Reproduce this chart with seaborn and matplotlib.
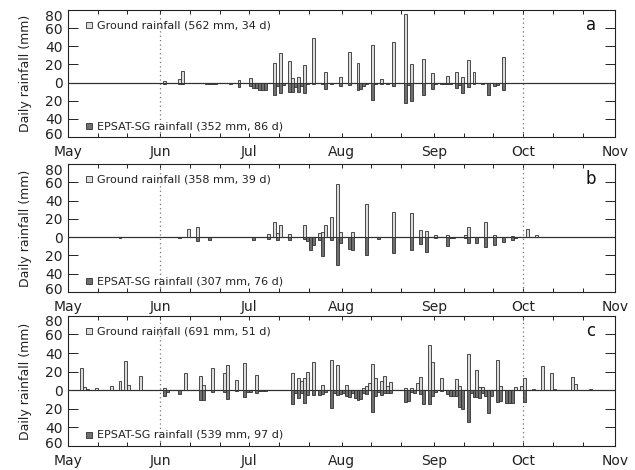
import numpy as np
import pandas as pd
import matplotlib
matplotlib.use('Agg')
import matplotlib.pyplot as plt
import matplotlib.transforms as mtrans
import seaborn as sns

# day offsets from 1 May and daily rainfall (mm)
a_ground_day = [32, 37, 38, 57, 61, 69, 71, 74, 75, 77, 79, 82, 86, 91, 94, 97, 102, 105, 109, 113, 115, 119, 122, 127, 130, 132, 134, 136, 146]
a_ground_mm = [2, 4, 13, 3, 5, 22, 33, 24, 5, 6, 19, 49, 12, 6, 34, 22, 42, 4, 45, 76, 20, 26, 11, 7, 12, 6, 25, 12, 28]
a_sat_day = [32, 37, 38, 46, 47, 48, 49, 54, 57, 61, 62, 63, 64, 65, 66, 69, 70, 71, 72, 74, 75, 76, 77, 78, 79, 80, 82, 85, 86, 88,
             91, 94, 97, 98, 99, 100, 102, 103, 105, 107, 109, 113, 114, 115, 119, 122, 123, 125, 126, 127, 128, 130, 131, 132,
             134, 136, 139, 141, 143, 144, 146]
a_sat_mm = [1, 1, 1, 1, 1, 1, 1, 1, 5, 4, 6, 6, 8, 8, 8, 14, 4, 11, 3, 10, 10, 5, 10, 4, 12, 2, 2, 2, 7, 1,
            4, 3, 8, 7, 4, 2, 19, 2, 2, 1, 4, 23, 3, 20, 14, 7, 2, 1, 1, 2, 1, 6, 3, 11,
            5, 1, 2, 14, 4, 3, 8]

b_ground_day = [40, 43, 67, 69, 70, 71, 74, 79, 84, 85, 86, 88, 90, 91, 95, 100, 109, 115, 118, 120, 123, 127, 133, 134, 140, 143, 149, 154, 157]
b_ground_mm = [9, 11, 3, 17, 5, 13, 3, 13, 4, 6, 13, 22, 58, 6, 6, 36, 27, 26, 8, 7, 2, 2, 2, 11, 17, 2, 1, 9, 2]
b_sat_day = [17, 37, 43, 47, 62, 67, 70, 74, 79, 80, 81, 82, 84, 85, 88, 90, 91, 94, 95, 100, 104, 109, 115, 118, 120,
             123, 127, 128, 129, 133, 134, 137, 140, 143, 146, 149, 150]
b_sat_mm = [1, 1, 4, 3, 3, 2, 3, 3, 2, 4, 14, 9, 3, 21, 3, 31, 7, 13, 14, 20, 2, 17, 14, 8, 16,
            1, 10, 1, 1, 1, 7, 7, 11, 9, 5, 3, 1]

c_ground_day = [4, 5, 6, 9, 14, 17, 19, 20, 24, 32, 39, 44, 45, 48, 52, 53, 56, 59, 63, 75, 77, 78, 79, 80, 82, 85, 88, 90,
                93, 99, 100, 101, 102, 103, 105, 106, 107, 108, 113, 115, 117, 118, 121, 122, 125, 130, 131, 134, 137, 138,
                139, 144, 145, 150, 152, 153, 156, 159, 162, 163, 169, 170, 175]
c_ground_mm = [24, 3, 1, 2, 5, 10, 31, 6, 15, 2, 19, 15, 6, 24, 18, 27, 11, 29, 16, 18, 13, 10, 13, 20, 30, 6, 33, 27,
               6, 2, 5, 8, 28, 13, 10, 15, 5, 9, 2, 2, 8, 14, 49, 30, 13, 12, 5, 39, 22, 3,
               3, 33, 5, 4, 5, 13, 1, 26, 18, 1, 14, 7, 1]
c_sat_day = [32, 33, 37, 44, 45, 48, 52, 53, 56, 59, 60, 61, 63, 64, 65, 66, 75, 76, 77, 78, 79, 80, 82, 84, 85, 86, 88, 89,
             90, 91, 92, 93, 94, 95, 96, 97, 98, 99, 100, 102, 103, 104, 105, 106, 107, 108, 113, 114, 115, 116, 118, 119,
             121, 122, 123, 125, 127, 128, 129, 130, 131, 132, 134, 135, 136, 137, 138, 139, 140, 141, 142, 144, 145,
             147, 148, 149, 153]
c_sat_mm = [6, 2, 4, 11, 10, 2, 2, 9, 1, 7, 2, 2, 3, 1, 1, 1, 15, 3, 8, 3, 14, 5, 5, 5, 4, 2, 19, 3,
            5, 4, 3, 6, 7, 3, 8, 10, 9, 3, 4, 23, 6, 2, 5, 3, 3, 3, 13, 12, 2, 3, 4, 15,
            15, 6, 2, 1, 4, 6, 6, 6, 18, 20, 34, 3, 7, 7, 8, 3, 6, 24, 6, 13, 12,
            14, 14, 14, 13]

panel_letters = ['a', 'b', 'c']
ground_labels = ['Ground rainfall (562 mm, 34 d)', 'Ground rainfall (358 mm, 39 d)', 'Ground rainfall (691 mm, 51 d)']
sat_labels = ['EPSAT-SG rainfall (352 mm, 86 d)', 'EPSAT-SG rainfall (307 mm, 76 d)', 'EPSAT-SG rainfall (539 mm, 97 d)']
month_names = ['May', 'Jun', 'Jul', 'Aug', 'Sep', 'Oct', 'Nov']
ytick_vals = [-60, -40, -20, 0, 20, 40, 60, 80]
ytick_labels = ['60', '40', '20', '0', '20', '40', '60', '80']

start = pd.Timestamp('2000-05-01')
end = pd.Timestamp('2000-11-01')
ndays = (end - start).days
month_starts = pd.date_range(start, end, freq='MS')
month_pos = (month_starts - start).days.values
minor_dates = [d for d in pd.date_range(start, end, freq='D') if d.day in (11, 21)]
minor_pos = [(d - start).days for d in minor_dates]

GROUND_C = '#dcdcdc'
SAT_C = '#6f6f6f'
EDGE_C = '#303030'


def daily(days, mm):
    s = np.zeros(ndays)
    s[np.array(days)] = mm
    return pd.DataFrame({'day': np.arange(ndays) + 0.5, 'mm': s})


sns.set_style('ticks')
plt.rcParams['font.family'] = ['DejaVu Sans']

fig = plt.figure(figsize=(6.35, 4.70), dpi=100)
boxes = [(0.107, 0.7085, 0.862, 0.270), (0.107, 0.379, 0.862, 0.272), (0.107, 0.051, 0.862, 0.277)]
data = [(a_ground_day, a_ground_mm, a_sat_day, a_sat_mm),
        (b_ground_day, b_ground_mm, b_sat_day, b_sat_mm),
        (c_ground_day, c_ground_mm, c_sat_day, c_sat_mm)]

for i, box in enumerate(boxes):
    ax = fig.add_axes(box)
    gd, gm, sd, sm = data[i]
    g = daily(gd, gm)
    s = daily(sd, sm)
    s['mm'] = -s['mm']
    sns.barplot(data=g, x='day', y='mm', native_scale=True, orient='x', width=1,
                color=GROUND_C, edgecolor=EDGE_C, linewidth=0.6, errorbar=None, ax=ax, zorder=3)
    sns.barplot(data=s, x='day', y='mm', native_scale=True, orient='x', width=1,
                color=SAT_C, edgecolor=EDGE_C, linewidth=0.6, errorbar=None, ax=ax, zorder=3)
    ax.axhline(0, color='#404040', lw=0.9, zorder=2)
    for d in (month_pos[1], month_pos[5]):
        ax.axvline(d, color='#777777', lw=0.9, ls=(0, (1, 2.5)), zorder=1)

    ax.set_xlim(0, ndays)
    ax.set_ylim(-60, 80)
    ax.set_xticks(month_pos)
    ax.set_xticklabels(month_names, fontsize=10)
    ax.set_xticks(minor_pos, minor=True)
    ax.set_yticks(ytick_vals)
    ax.set_yticklabels(ytick_labels, fontsize=10)
    ax.tick_params(axis='x', which='both', direction='in', length=3, width=0.7, top=True, pad=6, colors='#222222')
    ax.tick_params(axis='y', direction='in', length=7, width=0.7, right=True, pad=4, colors='#222222')
    # end labels sit a little inside the frame, as in the original
    yl = ax.get_yticklabels()
    yl[-1].set_transform(yl[-1].get_transform() + mtrans.ScaledTranslation(0, -0.05, fig.dpi_scale_trans))
    yl[0].set_transform(yl[0].get_transform() + mtrans.ScaledTranslation(0, 0.035, fig.dpi_scale_trans))
    ax.set_xlabel('')
    ax.set_ylabel('Daily rainfall (mm)', fontsize=9, labelpad=9, color='#222222')
    for sp in ax.spines.values():
        sp.set_visible(True)
        sp.set_linewidth(0.8)
        sp.set_color('#222222')

    ax.plot([0.038], [0.88], marker='s', ms=5, mfc=GROUND_C, mec=EDGE_C, mew=0.6,
            transform=ax.transAxes, clip_on=False)
    ax.text(0.053, 0.88, ground_labels[i], transform=ax.transAxes, fontsize=8, va='center', color='#222222')
    ax.plot([0.038], [0.085], marker='s', ms=5, mfc=SAT_C, mec=EDGE_C, mew=0.6,
            transform=ax.transAxes, clip_on=False)
    ax.text(0.053, 0.085, sat_labels[i], transform=ax.transAxes, fontsize=8, va='center', color='#222222')
    ax.text(0.955, 0.88, panel_letters[i], transform=ax.transAxes, fontsize=12,
            ha='center', va='center', color='#111111')

fig.savefig('out.png', dpi=100)
